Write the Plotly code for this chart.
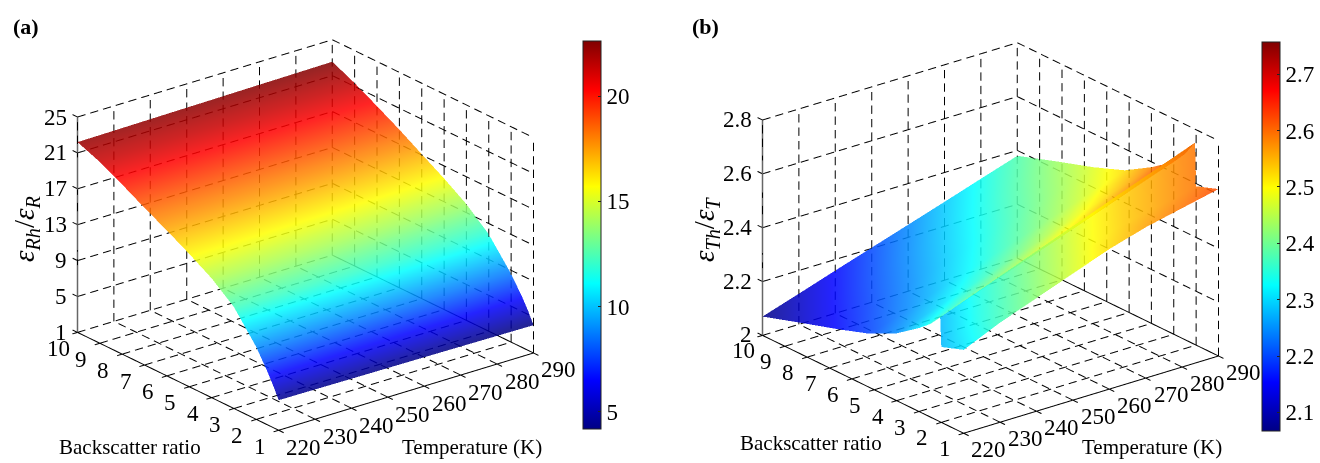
import numpy as np
import plotly.graph_objects as go

FONT = "Liberation Serif"
temps = [220, 230, 240, 250, 260, 270, 280, 290]
ratios = [1, 2, 3, 4, 5, 6, 7, 8, 9, 10]

# panel (a)
a_r = [1, 1.25, 1.5, 2, 3, 4, 5, 6, 7, 8, 9, 10]
a_z = [
    [4.35, 4.32, 4.28, 4.25, 4.22, 4.18, 4.14, 4.10],
    [5.70, 5.66, 5.63, 5.60, 5.56, 5.52, 5.49, 5.45],
    [6.90, 6.85, 6.80, 6.76, 6.72, 6.68, 6.64, 6.60],
    [9.05, 8.98, 8.92, 8.85, 8.78, 8.72, 8.66, 8.60],
    [12.3, 12.2, 12.15, 12.1, 12.0, 11.95, 11.9, 11.8],
    [14.3, 14.25, 14.2, 14.15, 14.1, 14.05, 14.0, 13.95],
    [15.8, 15.78, 15.75, 15.72, 15.7, 15.68, 15.65, 15.6],
    [17.2, 17.2, 17.18, 17.18, 17.15, 17.15, 17.12, 17.1],
    [18.5, 18.5, 18.52, 18.52, 18.55, 18.58, 18.6, 18.62],
    [19.9, 19.92, 19.94, 19.95, 19.97, 19.98, 20.0, 20.02],
    [21.2, 21.22, 21.25, 21.27, 21.3, 21.32, 21.35, 21.38],
    [22.2, 22.25, 22.3, 22.35, 22.4, 22.45, 22.5, 22.55],
]
a_zticks = [1, 5, 9, 13, 17, 21, 25]
a_cticks = [5, 10, 15, 20]
a_crange = [4.18, 22.62]

# panel (b): the part behind the step, and the part in front of it
b_rear_r = [2.05, 2.5, 3, 4, 5.2, 6.6, 8.25, 10]
b_rear_z = [
    [2.388, 2.440, 2.492, 2.544, 2.596, 2.648, 2.699, 2.750],
    [2.345, 2.394, 2.443, 2.492, 2.541, 2.590, 2.640, 2.690],
    [2.310, 2.357, 2.404, 2.451, 2.498, 2.546, 2.593, 2.640],
    [2.250, 2.297, 2.344, 2.391, 2.439, 2.486, 2.533, 2.580],
    [2.200, 2.246, 2.292, 2.337, 2.383, 2.429, 2.474, 2.520],
    [2.160, 2.205, 2.250, 2.295, 2.340, 2.385, 2.430, 2.475],
    [2.117, 2.162, 2.207, 2.252, 2.296, 2.341, 2.386, 2.430],
    [2.070, 2.114, 2.159, 2.203, 2.247, 2.291, 2.336, 2.380],
]
b_front_r = [1, 1.5, 2, 2.05]
b_front_z = [
    [2.31, 2.37, 2.42, 2.47, 2.52, 2.56, 2.59, 2.62],
    [2.295, 2.355, 2.405, 2.455, 2.505, 2.545, 2.575, 2.605],
    [2.28, 2.34, 2.39, 2.44, 2.49, 2.53, 2.56, 2.59],
    [2.388, 2.440, 2.492, 2.544, 2.596, 2.648, 2.699, 2.750],
]
b_front_c = [
    [2.31, 2.37, 2.42, 2.47, 2.52, 2.56, 2.59, 2.62],
    [2.295, 2.355, 2.405, 2.455, 2.505, 2.545, 2.575, 2.605],
    [2.28, 2.34, 2.39, 2.44, 2.49, 2.53, 2.56, 2.59],
    [2.28, 2.34, 2.39, 2.44, 2.49, 2.53, 2.56, 2.59],
]
b_zticks = [2, 2.2, 2.4, 2.6, 2.8]
b_cticks = [2.1, 2.2, 2.3, 2.4, 2.5, 2.6, 2.7]
b_crange = [2.067, 2.757]

jet = [[0, "#000084"], [0.125, "#0000ff"], [0.375, "#00ffff"],
       [0.625, "#ffff00"], [0.875, "#ff0000"], [1, "#800000"]]
LIGHT = dict(ambient=1, diffuse=0, specular=0, roughness=1, fresnel=0)
W, H = 1320, 463
SURF_OPACITY = 0.86
EYE_D = 4
ZOOM = 1.51
T_PAD, R_PAD = 1.5, 0.25
N_T, N_R, N_Z = 20, 17, 16


def dashed(p0, p1, n):
    """Break one grid line into n dash segments."""
    xs, ys, zs = [], [], []
    p0, p1 = np.array(p0, float), np.array(p1, float)
    for i in range(n):
        a = p0 + (p1 - p0) * (i / n)
        b = p0 + (p1 - p0) * ((i + 0.62) / n)
        xs += [a[0], b[0], None]
        ys += [a[1], b[1], None]
        zs += [a[2], b[2], None]
    return xs, ys, zs


def grid_trace(scene, zticks):
    x0, x1, y0, y1 = temps[0], temps[-1], ratios[0], ratios[-1]
    z0, z1 = zticks[0], zticks[-1]
    segs = []
    for t in temps:
        segs.append(((t, y0, z0), (t, y1, z0), N_R))
        segs.append(((t, y1, z0), (t, y1, z1), N_Z))
    for r in ratios:
        segs.append(((x0, r, z0), (x1, r, z0), N_T))
        segs.append(((x1, r, z0), (x1, r, z1), N_Z))
    for z in zticks:
        segs.append(((x0, y1, z), (x1, y1, z), N_T))
        segs.append(((x1, y1, z), (x1, y0, z), N_R))
    X, Y, Z = [], [], []
    for p, q, n in segs:
        a, b, c = dashed(p, q, n)
        X += a; Y += b; Z += c
    return go.Scatter3d(x=X, y=Y, z=Z, mode="lines", scene=scene, showlegend=False,
                        hoverinfo="skip", line=dict(color="#000000", width=2))


def axis_trace(scene, zticks):
    x0, x1, y0, y1 = temps[0], temps[-1], ratios[0], ratios[-1]
    z0, z1 = zticks[0], zticks[-1]
    X = [x0, x1, None, x0, x0, None, x1, x1, None]
    Y = [y0, y0, None, y0, y1, None, y0, y1, None]
    Z = [z0, z0, None, z0, z0, None, z0, z0, None]
    for t in temps:
        X += [t, t, None]; Y += [y0, y0 - 0.22, None]; Z += [z0, z0, None]
    for r in ratios:
        X += [x0, x0 - 1.4, None]; Y += [r, r, None]; Z += [z0, z0, None]
    for z in zticks:
        X += [x0, x0, None]; Y += [y1, y1 + 0.22, None]; Z += [z, z, None]
    return go.Scatter3d(x=X, y=Y, z=Z, mode="lines", scene=scene, showlegend=False,
                        hoverinfo="skip", line=dict(color="#000000", width=2))


def zline_trace(scene, zticks):
    return go.Scatter3d(x=[temps[0], temps[0]], y=[ratios[-1], ratios[-1]],
                        z=[zticks[0], zticks[-1]], mode="lines", scene=scene, showlegend=False,
                        hoverinfo="skip", line=dict(color="#666666", width=3))


def tick_notes(zticks, ztext):
    notes = []
    f = dict(family=FONT, size=23, color="black")
    base = dict(showarrow=False, font=f)
    for t in temps:
        notes.append(dict(base, x=t, y=ratios[0], z=zticks[0], text=str(t), xshift=25, yshift=-17))
    for r in ratios:
        notes.append(dict(base, x=temps[0], y=r, z=zticks[0], text=str(r), xshift=-19, yshift=-16))
    for z, s in zip(zticks, ztext):
        notes.append(dict(base, x=temps[0], y=ratios[-1], z=z, text=s, xanchor="right", xshift=-9))
    return notes


def scene_layout(dom_x, dom_y, zticks, ztext):
    ax = dict(visible=False, showgrid=False, showspikes=False, showbackground=False)
    zpad = (zticks[-1] - zticks[0]) * 0.001
    return dict(
        domain=dict(x=dom_x, y=dom_y),
        xaxis=dict(ax, range=[temps[0] - T_PAD, temps[-1] + T_PAD]),
        yaxis=dict(ax, range=[ratios[0] - R_PAD, ratios[-1] + R_PAD]),
        zaxis=dict(ax, range=[zticks[0] - zpad, zticks[-1] + zpad]),
        aspectmode="manual",
        aspectratio=dict(x=ZOOM * (1 + 2 * T_PAD / 70), y=ZOOM * (1 + 2 * R_PAD / 9), z=ZOOM * 0.72),
        camera=dict(
            projection=dict(type="orthographic"),
            up=dict(x=0, y=0, z=1),
            center=dict(x=0, y=0, z=0),
            eye=dict(x=-0.572 * EYE_D, y=-0.7245 * EYE_D, z=0.384 * EYE_D),
        ),
        annotations=tick_notes(zticks, ztext),
        bgcolor="white",
    )


def cbar(xpx, top, bottom, ticks, text):
    return dict(
        x=xpx / W, xanchor="left", y=1 - top / H, yanchor="top",
        thicknessmode="pixels", thickness=18, lenmode="pixels", len=bottom - top,
        xpad=0, ypad=0, outlinecolor="#222222", outlinewidth=1,
        tickmode="array", tickvals=ticks, ticktext=text, ticks="inside",
        ticklen=3, tickcolor="#222222", tickwidth=1,
        tickfont=dict(family=FONT, size=23, color="black"),
    )


fig = go.Figure()
fig.add_trace(grid_trace("scene", a_zticks))
fig.add_trace(axis_trace("scene", a_zticks))
fig.add_trace(zline_trace("scene", a_zticks))
fig.add_trace(go.Surface(x=temps, y=a_r, z=a_z, scene="scene", colorscale=jet,
                         cmin=a_crange[0], cmax=a_crange[1], opacity=SURF_OPACITY,
                         lighting=LIGHT, hoverinfo="skip",
                         colorbar=cbar(583, 41, 429, a_cticks, [str(v) for v in a_cticks])))
fig.add_trace(grid_trace("scene2", b_zticks))
fig.add_trace(axis_trace("scene2", b_zticks))
fig.add_trace(zline_trace("scene2", b_zticks))
fig.add_trace(go.Surface(x=temps, y=b_rear_r, z=b_rear_z, scene="scene2", colorscale=jet,
                         cmin=b_crange[0], cmax=b_crange[1], opacity=SURF_OPACITY,
                         lighting=LIGHT, hoverinfo="skip",
                         colorbar=cbar(1262, 42, 431, b_cticks, [f"{v:.1f}" for v in b_cticks])))
fig.add_trace(go.Surface(x=temps, y=b_front_r, z=b_front_z, surfacecolor=b_front_c, scene="scene2",
                         colorscale=jet, cmin=b_crange[0], cmax=b_crange[1], opacity=SURF_OPACITY,
                         lighting=LIGHT, hoverinfo="skip", showscale=False))

tf = dict(family=FONT, size=21, color="black")
notes = [
    dict(x=26 / W, y=1 - 26 / H, text="<b>(a)</b>", font=dict(family=FONT, size=22, color="black")),
    dict(x=706 / W, y=1 - 26 / H, text="<b>(b)</b>", font=dict(family=FONT, size=22, color="black")),
    dict(x=130 / W, y=1 - 447 / H, text="Backscatter ratio", font=tf),
    dict(x=472 / W, y=1 - 447 / H, text="Temperature (K)", font=tf),
    dict(x=811 / W, y=1 - 443 / H, text="Backscatter ratio", font=tf),
    dict(x=1152 / W, y=1 - 447 / H, text="Temperature (K)", font=tf),
    dict(x=26 / W, y=1 - 229 / H, textangle=-90, font=dict(family=FONT, size=29, color="black"),
         text="<i>ε<sub>Rh</sub></i>/<i>ε<sub>R</sub></i>"),
    dict(x=706 / W, y=1 - 229 / H, textangle=-90, font=dict(family=FONT, size=29, color="black"),
         text="<i>ε<sub>Th</sub></i>/<i>ε<sub>T</sub></i>"),
]
for n in notes:
    n.update(xref="paper", yref="paper", showarrow=False, xanchor="center", yanchor="middle")

fig.update_layout(
    width=W, height=H, autosize=False, paper_bgcolor="white", showlegend=False,
    margin=dict(l=0, r=0, t=0, b=0),
    scene=scene_layout([20 / W, 591 / W], [1 - 450 / H, 1 - 20 / H], a_zticks, [str(v) for v in a_zticks]),
    scene2=scene_layout([720 / W, 1261.4 / W], [1 - 452.5 / H, 1 - 22.5 / H], b_zticks, ["2", "2.2", "2.4", "2.6", "2.8"]),
    annotations=notes,
)
fig.write_html("out.html", config=dict(displayModeBar=False),
               post_script="document.body.style.margin='0';document.body.style.overflow='hidden';")
